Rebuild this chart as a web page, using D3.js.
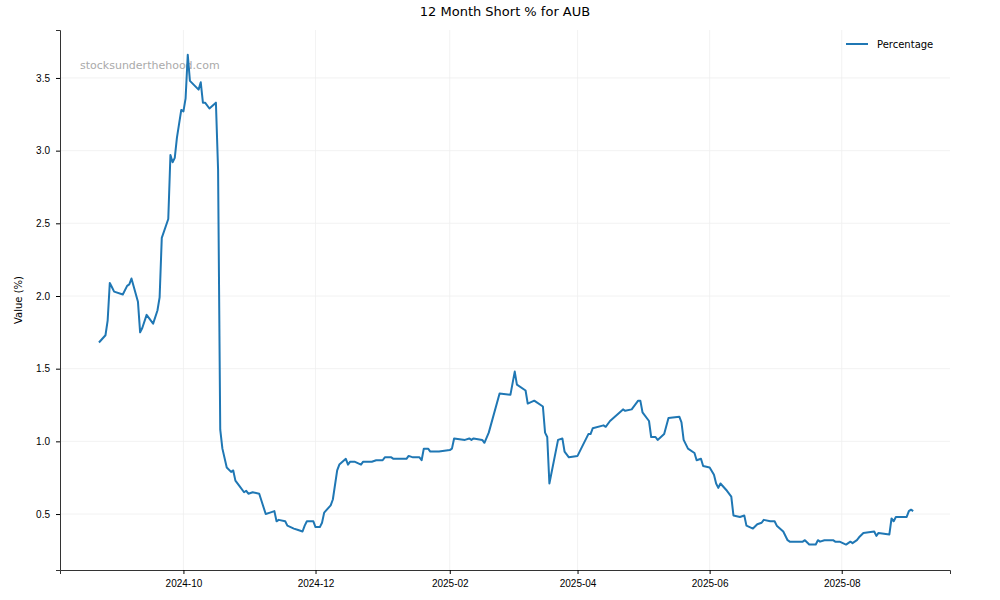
<!DOCTYPE html>
<html>
<head>
<meta charset="utf-8">
<script src="https://cdn.jsdelivr.net/npm/d3@7"></script>
<style>
  body { margin: 0; background: #fff; font-family: "DejaVu Sans", sans-serif; }
  .tick text { font-size: 10px; fill: #000; }
</style>
</head>
<body>
<svg id="chart" width="1000" height="600"></svg>
<script>
var dates = ["2024-08-23","2024-08-26","2024-08-27","2024-08-28","2024-08-29","2024-08-30","2024-09-03","2024-09-05","2024-09-06","2024-09-07","2024-09-10","2024-09-11","2024-09-12","2024-09-14","2024-09-17","2024-09-19","2024-09-20","2024-09-21","2024-09-24","2024-09-25","2024-09-26","2024-09-27","2024-09-28","2024-09-30","2024-10-01","2024-10-02","2024-10-03","2024-10-04","2024-10-08","2024-10-09","2024-10-10","2024-10-11","2024-10-13","2024-10-16","2024-10-17","2024-10-18","2024-10-19","2024-10-21","2024-10-23","2024-10-24","2024-10-25","2024-10-27","2024-10-29","2024-10-30","2024-10-31","2024-11-02","2024-11-05","2024-11-08","2024-11-10","2024-11-12","2024-11-13","2024-11-14","2024-11-17","2024-11-18","2024-11-21","2024-11-23","2024-11-25","2024-11-26","2024-11-27","2024-11-30","2024-12-01","2024-12-03","2024-12-04","2024-12-05","2024-12-08","2024-12-09","2024-12-11","2024-12-12","2024-12-15","2024-12-16","2024-12-17","2024-12-18","2024-12-19","2024-12-22","2024-12-23","2024-12-27","2024-12-29","2025-01-01","2025-01-02","2025-01-05","2025-01-06","2025-01-12","2025-01-13","2025-01-15","2025-01-18","2025-01-19","2025-01-20","2025-01-22","2025-01-23","2025-01-27","2025-02-01","2025-02-02","2025-02-03","2025-02-08","2025-02-10","2025-02-11","2025-02-12","2025-02-16","2025-02-17","2025-02-19","2025-02-24","2025-03-01","2025-03-03","2025-03-04","2025-03-08","2025-03-09","2025-03-12","2025-03-16","2025-03-17","2025-03-18","2025-03-19","2025-03-23","2025-03-25","2025-03-26","2025-03-28","2025-04-01","2025-04-03","2025-04-06","2025-04-07","2025-04-08","2025-04-13","2025-04-14","2025-04-16","2025-04-22","2025-04-23","2025-04-26","2025-04-29","2025-04-30","2025-05-01","2025-05-04","2025-05-05","2025-05-07","2025-05-08","2025-05-11","2025-05-13","2025-05-18","2025-05-19","2025-05-20","2025-05-22","2025-05-25","2025-05-26","2025-05-28","2025-05-29","2025-06-01","2025-06-03","2025-06-04","2025-06-05","2025-06-06","2025-06-09","2025-06-11","2025-06-12","2025-06-15","2025-06-17","2025-06-18","2025-06-21","2025-06-23","2025-06-25","2025-06-26","2025-06-29","2025-07-01","2025-07-02","2025-07-05","2025-07-07","2025-07-08","2025-07-11","2025-07-14","2025-07-15","2025-07-17","2025-07-20","2025-07-21","2025-07-22","2025-07-24","2025-07-28","2025-07-29","2025-07-31","2025-08-03","2025-08-05","2025-08-06","2025-08-08","2025-08-09","2025-08-11","2025-08-16","2025-08-17","2025-08-18","2025-08-23","2025-08-24","2025-08-25","2025-08-26","2025-08-27","2025-08-31","2025-09-01","2025-09-02","2025-09-03"];
var values = [1.68,1.73,1.83,2.09,2.06,2.03,2.01,2.07,2.08,2.12,1.96,1.75,1.78,1.87,1.81,1.90,1.99,2.40,2.53,2.97,2.92,2.95,3.09,3.28,3.27,3.36,3.66,3.48,3.42,3.47,3.33,3.33,3.29,3.33,2.87,1.08,0.95,0.82,0.79,0.80,0.73,0.69,0.65,0.66,0.64,0.65,0.64,0.50,0.51,0.52,0.45,0.46,0.45,0.42,0.40,0.39,0.38,0.42,0.45,0.45,0.41,0.41,0.44,0.51,0.56,0.60,0.80,0.84,0.88,0.84,0.86,0.86,0.86,0.84,0.86,0.86,0.87,0.87,0.89,0.89,0.88,0.88,0.90,0.89,0.89,0.87,0.95,0.95,0.93,0.93,0.94,0.95,1.02,1.01,1.02,1.01,1.02,1.01,0.99,1.06,1.33,1.32,1.48,1.39,1.35,1.26,1.28,1.24,1.06,1.03,0.71,1.01,1.02,0.93,0.89,0.90,0.96,1.05,1.05,1.09,1.11,1.10,1.14,1.22,1.21,1.22,1.28,1.28,1.20,1.14,1.03,1.03,1.01,1.05,1.16,1.17,1.13,1.01,0.95,0.92,0.87,0.88,0.83,0.82,0.77,0.71,0.68,0.71,0.66,0.62,0.49,0.48,0.49,0.42,0.40,0.43,0.44,0.46,0.45,0.45,0.42,0.38,0.32,0.31,0.31,0.31,0.32,0.29,0.29,0.32,0.31,0.32,0.32,0.31,0.31,0.29,0.31,0.30,0.32,0.34,0.37,0.38,0.35,0.37,0.36,0.47,0.45,0.48,0.48,0.48,0.52,0.53,0.52];
var xTicks = ["2024-10-01","2024-12-01","2025-02-01","2025-04-01","2025-06-01","2025-08-01"];
var yTicks = [0.5,1.0,1.5,2.0,2.5,3.0,3.5];

var parse = d3.timeParse("%Y-%m-%d");
var data = dates.map(function(d, i) { return {date: parse(d), value: values[i]}; });

var svg = d3.select("#chart");
var plotLeft = 60, plotRight = 950, plotTop = 30, plotBottom = 570;

var x = d3.scaleTime()
    .domain([parse("2024-08-05"), parse("2025-09-20")])
    .range([plotLeft, plotRight]);
var y = d3.scaleLinear()
    .domain([0.115, 3.83])
    .range([plotBottom, plotTop]);

// grid
svg.append("g").selectAll("line").data(xTicks).enter().append("line")
    .attr("x1", function(d) { return x(parse(d)); })
    .attr("x2", function(d) { return x(parse(d)); })
    .attr("y1", plotTop).attr("y2", plotBottom)
    .attr("stroke", "#efefef").attr("stroke-width", 0.8);
svg.append("g").selectAll("line").data(yTicks).enter().append("line")
    .attr("x1", plotLeft).attr("x2", plotRight)
    .attr("y1", function(d) { return y(d); })
    .attr("y2", function(d) { return y(d); })
    .attr("stroke", "#efefef").attr("stroke-width", 0.8);

// axes
svg.append("g")
    .attr("transform", "translate(0," + plotBottom + ")")
    .call(d3.axisBottom(x)
        .tickValues(xTicks.map(parse))
        .tickFormat(d3.timeFormat("%Y-%m"))
        .tickSizeOuter(0).tickSize(4).tickPadding(6))
    .call(function(g) { g.select(".domain").attr("stroke", "#333"); });
svg.append("g")
    .attr("transform", "translate(" + plotLeft + ",0)")
    .call(d3.axisLeft(y)
        .tickValues(yTicks)
        .tickFormat(d3.format(".1f"))
        .tickSizeOuter(0).tickSize(4).tickPadding(6))
    .call(function(g) { g.select(".domain").attr("stroke", "#333"); });

// watermark
svg.append("text")
    .attr("x", 80).attr("y", 69)
    .attr("font-size", 11).attr("fill", "#aaa")
    .text("stocksunderthehood.com");

// line
svg.append("path")
    .datum(data)
    .attr("fill", "none")
    .attr("stroke", "#1f77b4")
    .attr("stroke-width", 2)
    .attr("stroke-linejoin", "round")
    .attr("d", d3.line()
        .x(function(d) { return x(d.date); })
        .y(function(d) { return y(d.value); }));

// title and labels
svg.append("text")
    .attr("x", 505).attr("y", 16)
    .attr("text-anchor", "middle").attr("font-size", 13)
    .text("12 Month Short % for AUB");
svg.append("text")
    .attr("transform", "translate(22," + ((plotTop + plotBottom) / 2) + ") rotate(-90)")
    .attr("text-anchor", "middle").attr("font-size", 10)
    .text("Value (%)");

// legend
var legend = svg.append("g").attr("transform", "translate(846,44)");
legend.append("line").attr("x1", 0).attr("x2", 22)
    .attr("stroke", "#1f77b4").attr("stroke-width", 2);
legend.append("text").attr("x", 31).attr("y", 4)
    .attr("font-size", 10).text("Percentage");
</script>
</body>
</html>
